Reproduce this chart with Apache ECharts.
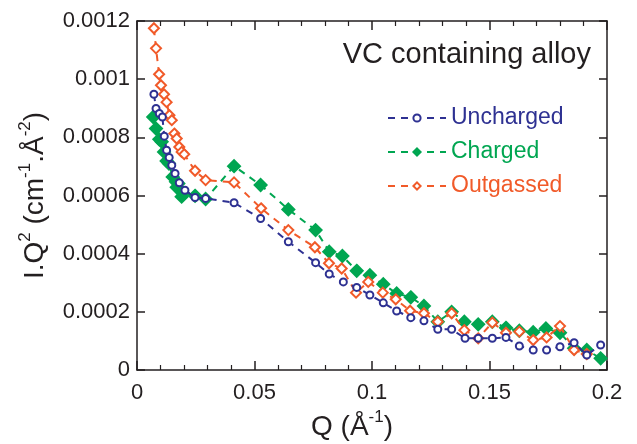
<!DOCTYPE html>
<html>
<head>
<meta charset="utf-8">
<script src="https://cdn.jsdelivr.net/npm/echarts@6/dist/echarts.min.js"></script>
<style>
  html, body { margin: 0; padding: 0; background: #fff; }
  #chart { width: 637px; height: 444px; }
</style>
</head>
<body>
<div id="chart"></div>
<script>
// Q values (1/A) and I.Q^2 values
const unchargedQ = [0.0072, 0.0081, 0.0095, 0.0108, 0.0116, 0.0126, 0.0137, 0.0148, 0.0162, 0.018, 0.0204, 0.0247, 0.0292, 0.0413, 0.0526, 0.0644, 0.076, 0.0818, 0.0878, 0.0935, 0.0991, 0.1048, 0.1105, 0.1165, 0.1221, 0.128, 0.1339, 0.1396, 0.1452, 0.1512, 0.157, 0.1627, 0.1686, 0.1743, 0.18, 0.186, 0.1914, 0.1973];
const unchargedI = [0.000948, 0.000899, 0.000882, 0.00087, 0.000804, 0.000756, 0.000731, 0.000704, 0.000676, 0.000644, 0.000618, 0.000593, 0.00059, 0.000575, 0.000521, 0.000441, 0.000369, 0.00033, 0.000303, 0.000284, 0.000258, 0.000231, 0.000203, 0.00018, 0.000169, 0.00014, 0.00014, 0.000109, 0.000109, 0.000109, 0.000112, 0.0000825, 0.0000687, 0.0000687, 0.00008, 0.0000938, 0.0000515, 0.0000859];

const chargedQ = [0.0069, 0.0081, 0.0095, 0.0105, 0.0115, 0.0126, 0.0136, 0.0152, 0.0166, 0.0169, 0.0176, 0.019, 0.0197, 0.0247, 0.0292, 0.0413, 0.0526, 0.0644, 0.076, 0.0818, 0.0874, 0.0935, 0.0991, 0.1048, 0.1105, 0.1165, 0.1221, 0.128, 0.1339, 0.1393, 0.1452, 0.1512, 0.157, 0.1627, 0.1686, 0.174, 0.18, 0.186, 0.1914, 0.1973];
const chargedI = [0.00087, 0.00083, 0.000793, 0.000785, 0.00075, 0.000719, 0.00071, 0.000664, 0.000647, 0.000628, 0.000641, 0.000596, 0.000607, 0.000599, 0.000588, 0.000701, 0.000636, 0.000552, 0.000481, 0.000407, 0.000392, 0.000341, 0.000326, 0.000295, 0.000263, 0.00025, 0.00022, 0.000166, 0.0002, 0.000166, 0.000157, 0.000166, 0.000145, 0.000135, 0.00013, 0.000143, 0.000128, 0.0000745, 0.0000687, 0.00004];

const outgassedQ = [0.0072, 0.0081, 0.0094, 0.0102, 0.0115, 0.0126, 0.0138, 0.0148, 0.0159, 0.0169, 0.018, 0.019, 0.0201, 0.0247, 0.0292, 0.0413, 0.0528, 0.0644, 0.0757, 0.0817, 0.0871, 0.0932, 0.0984, 0.1046, 0.1101, 0.1162, 0.1221, 0.128, 0.1339, 0.1393, 0.1452, 0.1512, 0.157, 0.1627, 0.1686, 0.1743, 0.18, 0.186, 0.1914];
const outgassedI = [0.001175, 0.001106, 0.001017, 0.000979, 0.000948, 0.000921, 0.000876, 0.000859, 0.000813, 0.000796, 0.000767, 0.00075, 0.000742, 0.000685, 0.000653, 0.000645, 0.000556, 0.000481, 0.000422, 0.000367, 0.000349, 0.000266, 0.000303, 0.000266, 0.000243, 0.000204, 0.000195, 0.000166, 0.000195, 0.000137, 0.000109, 0.000163, 0.000128, 0.000132, 0.000103, 0.000112, 0.000151, 0.0000687, 0.000055];

const BLUE = "#2e3192", GREEN = "#00a651", ORANGE = "#f15a29", INK = "#231f20";
const FONT = "Liberation Sans";

const zip = (xs, ys) => xs.map((x, i) => [x, ys[i]]);

const chart = echarts.init(document.getElementById("chart"));

const axisLine = { show: true, onZero: false, lineStyle: { color: INK, width: 1.5 } };

const xBase = {
  type: "value", min: 0, max: 0.2, interval: 0.05,
  axisLine,
  axisTick: { show: true, inside: true, length: 9, lineStyle: { color: INK, width: 1.5 } },
  minorTick: { show: true, splitNumber: 5, length: 5, lineStyle: { color: INK, width: 1.2 } },
  splitLine: { show: false },
};
const yBase = {
  type: "value", min: 0, max: 0.0012, interval: 0.0002,
  axisLine,
  axisTick: { show: true, inside: true, length: 8, lineStyle: { color: INK, width: 1.5 } },
  splitLine: { show: false },
};

const sup = { fontSize: 17, fontFamily: FONT, color: INK, verticalAlign: "top", lineHeight: 32 };
const big = { fontSize: 28, fontFamily: FONT, color: INK, verticalAlign: "bottom", lineHeight: 32 };

function line(name, q, v, color, symbol, size, extra) {
  return Object.assign({
    name, type: "line",
    data: zip(q, v),
    symbol, symbolSize: size,
    showSymbol: true,
    lineStyle: { color, width: 2, type: [7, 6] },
    itemStyle: { color, borderColor: color, borderWidth: 2 },
    emphasis: { disabled: true },
    animation: false,
  }, extra || {});
}

chart.setOption({
  backgroundColor: "#fff",
  animation: false,
  grid: { left: 137, right: 30, top: 21, bottom: 74, outerBoundsMode: "none", containLabel: false },
  title: {
    text: "VC containing alloy",
    right: 41, top: 35,
    textStyle: { fontFamily: FONT, fontSize: 29, fontWeight: "normal", color: INK },
  },
  legend: {
    orient: "vertical",
    left: 382, top: 100,
    itemWidth: 58, itemHeight: 9, itemGap: 8,
    data: [
      { name: "Uncharged", textStyle: { color: BLUE } },
      { name: "Charged", textStyle: { color: GREEN } },
      { name: "Outgassed", textStyle: { color: ORANGE } },
    ],
    textStyle: { fontFamily: FONT, fontSize: 23, lineHeight: 26 },
  },
  xAxis: [
    Object.assign({}, xBase, {
      position: "bottom",
      axisLabel: { margin: 12, fontFamily: FONT, fontSize: 22, color: INK },
      name: "{b|Q (Å}{s|-1}{b|)}",
      nameLocation: "middle", nameGap: 38,
      nameTextStyle: { padding: [0, 40, 0, 0], rich: { b: big, s: sup } },
    }),
    Object.assign({}, xBase, { position: "top", axisLabel: { show: false } }),
  ],
  yAxis: [
    Object.assign({}, yBase, {
      position: "left",
      axisLabel: { margin: 7, fontFamily: FONT, fontSize: 22, color: INK },
      name: "{b|I.Q}{s|2}{b| (cm}{s|-1}{b|.Å}{s|-2}{b|)}",
      nameLocation: "middle", nameGap: 88,
      nameTextStyle: { rich: { b: big, s: sup } },
    }),
    Object.assign({}, yBase, { position: "right", axisLabel: { show: false } }),
  ],
  series: [
    line("Uncharged", unchargedQ, unchargedI, BLUE, "emptyCircle", 7, { z: 4, itemStyle: { color: BLUE, borderColor: BLUE, borderWidth: 1.6 } }),
    line("Charged", chargedQ, chargedI, GREEN, "diamond", 12, { z: 2 }),
    line("Outgassed", outgassedQ, outgassedI, ORANGE, "emptyDiamond", 10, { z: 3, itemStyle: { color: ORANGE, borderColor: ORANGE, borderWidth: 2.6 } }),
  ],
});
</script>
</body>
</html>
